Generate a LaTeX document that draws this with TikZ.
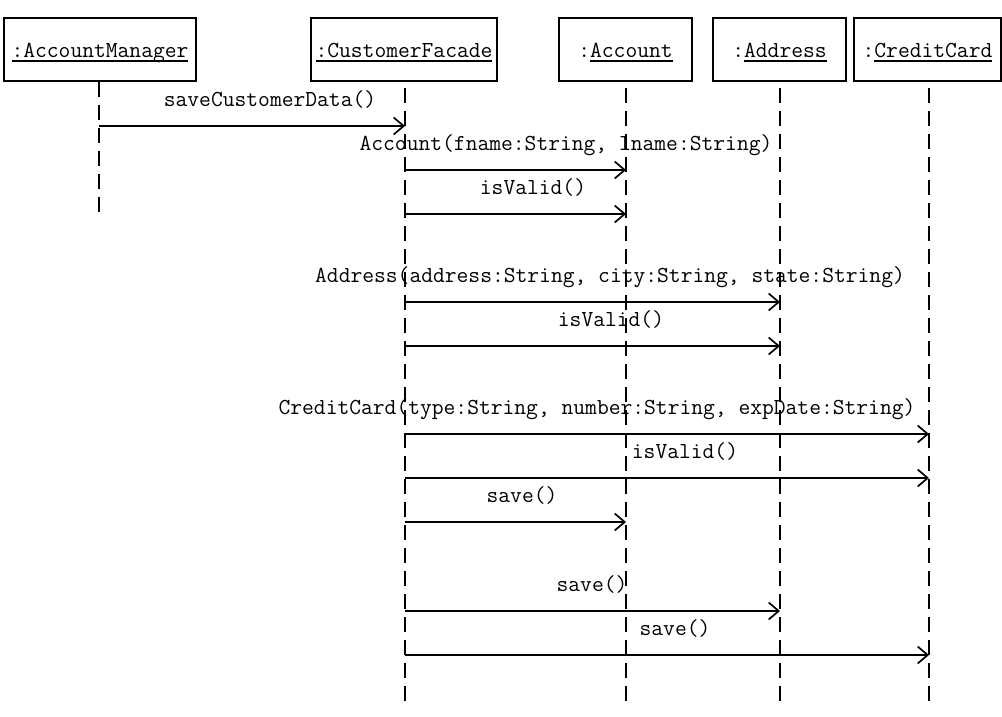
\documentclass[tikz,border=0pt]{standalone}
\usetikzlibrary{arrows.meta}
\newcommand\ulname[1]{\setbox0\hbox{#1}\rlap{\rule[-4.5pt]{\wd0}{1.4pt}}\box0}
\begin{document}
\begin{tikzpicture}[x=1pt,y=-1pt,
  obj/.style={draw,line width=1.7pt,minimum height=63pt,inner sep=0pt,text height=15pt,text depth=0pt,font=\ttfamily\fontsize{22.9}{24}\selectfont},
  life/.style={line width=1.7pt,dash pattern=on 15pt off 8pt},
  msg/.style={line width=1.7pt,-{Straight Barb[length=10pt,width=17pt,line width=1.7pt]}},
  lbl/.style={anchor=base,inner sep=0pt,font=\ttfamily\fontsize{22.9}{24}\selectfont}]
\useasboundingbox (0,0) rectangle (1002,716);
\node[obj,minimum width=192pt] (am) at (100,49.5) {\ulname{:AccountManager}};
\node[obj,minimum width=186pt] (cf) at (404,49.5) {\ulname{:CustomerFacade}};
\node[obj,minimum width=133pt] (ac) at (625.5,49.5) {:\ulname{Account}};
\node[obj,minimum width=133pt] (ad) at (779.5,49.5) {:\ulname{Address}};
\node[obj,minimum width=147pt] (cc) at (927.5,49.5) {:\ulname{CreditCard}};
\coordinate (amE) at (99,213);
\coordinate (cfE) at (405,702);
\coordinate (acE) at (626,702);
\coordinate (adE) at (780,702);
\coordinate (ccE) at (929,702);
\draw[life] (amE |- am.south) -- (amE);
\draw[life] (cfE |- 0,88) -- (cfE);
\draw[life] (acE |- 0,88) -- (acE);
\draw[life] (adE |- 0,88) -- (adE);
\draw[life] (ccE |- 0,88) -- (ccE);
% messages
\draw[msg] (amE |- 0,126) -- (cfE |- 0,126);
\node[lbl] (l1) at (270,106) {saveCustomerData()};
\draw[msg] (cfE |- 0,170) -- (acE |- 0,170);
\node[lbl] (l2) at (566,150) {Account(fname:String, lname:String)};
\draw[msg] (cfE |- 0,214) -- (acE |- 0,214);
\node[lbl] (l3) at (533,194) {isValid()};
\draw[msg] (cfE |- 0,302) -- (adE |- 0,302);
\node[lbl] (l4) at (610,282) {Address(address:String, city:String, state:String)};
\draw[msg] (cfE |- 0,346) -- (adE |- 0,346);
\node[lbl] (l5) at (611,326) {isValid()};
\draw[msg] (cfE |- 0,434) -- (ccE |- 0,434);
\node[lbl] (l6) at (597,414) {CreditCard(type:String, number:String, expDate:String)};
\draw[msg] (cfE |- 0,478) -- (ccE |- 0,478);
\node[lbl] (l7) at (685,458) {isValid()};
\draw[msg] (cfE |- 0,522) -- (acE |- 0,522);
\node[lbl] (l8) at (522,502) {save()};
\draw[msg] (cfE |- 0,611) -- (adE |- 0,611);
\node[lbl] (l9) at (592,591) {save()};
\draw[msg] (cfE |- 0,655) -- (ccE |- 0,655);
\node[lbl] (l10) at (675,635) {save()};
\end{tikzpicture}
\end{document}
